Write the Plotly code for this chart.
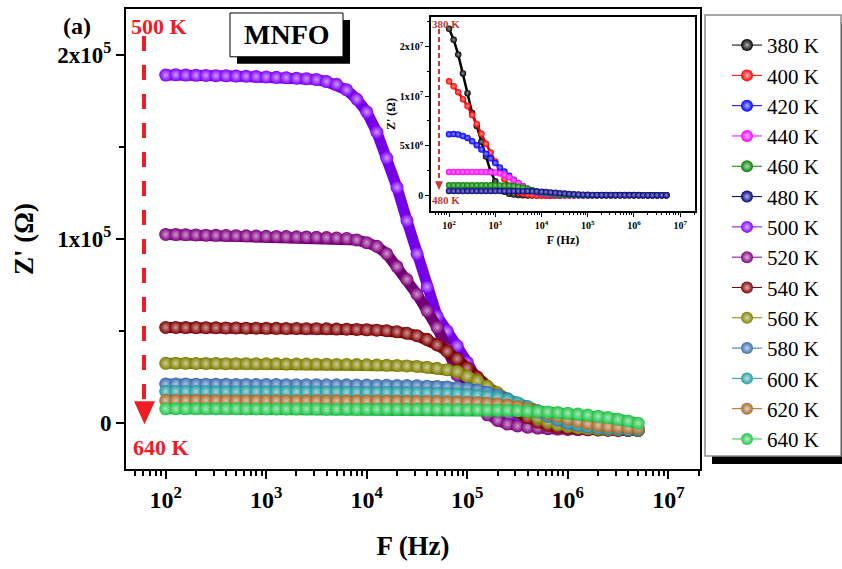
import plotly.graph_objects as go

# Measurement frequencies (Hz), 10 points per decade from 100 Hz to 5 MHz
F_HZ = [
    1.00e2, 1.26e2, 1.58e2, 2.00e2, 2.51e2, 3.16e2, 3.98e2, 5.01e2, 6.31e2, 7.94e2,
    1.00e3, 1.26e3, 1.58e3, 2.00e3, 2.51e3, 3.16e3, 3.98e3, 5.01e3, 6.31e3, 7.94e3,
    1.00e4, 1.26e4, 1.58e4, 2.00e4, 2.51e4, 3.16e4, 3.98e4, 5.01e4, 6.31e4, 7.94e4,
    1.00e5, 1.26e5, 1.58e5, 2.00e5, 2.51e5, 3.16e5, 3.98e5, 5.01e5, 6.31e5, 7.94e5,
    1.00e6, 1.26e6, 1.58e6, 2.00e6, 2.51e6, 3.16e6, 3.98e6, 5.01e6,
]

# Low-temperature Z' (units of 10^6 ohm), shown in the inset
Z_380K = [16.8, 15.7, 14.2, 12.3, 10.3, 8.3, 7.0, 5.4, 3.9, 2.4,
          1.4, 0.73, 0.35, 0.15, 0.06, 0.02, 0.0, -0.02, -0.03, -0.03,
          -0.03, -0.03, -0.02, -0.02, -0.02, -0.01, -0.01, -0.01, 0.0, 0.0,
          0.0, 0.0, 0.0, 0.0, 0.0, 0.0, 0.0, 0.0, 0.0, 0.0,
          0.0, 0.0, 0.0, 0.0, 0.0, 0.0, 0.0, 0.0]
Z_400K = [11.5, 11.0, 10.4, 9.7, 9.0, 8.1, 7.2, 6.2, 5.2, 4.3,
          3.4, 2.4, 1.6, 0.95, 0.55, 0.3, 0.15, 0.07, 0.02, -0.02,
          -0.04, -0.05, -0.05, -0.05, -0.04, -0.03, -0.02, -0.01, 0.0, 0.0,
          0.0, 0.0, 0.0, 0.0, 0.0, 0.0, 0.0, 0.0, 0.0, 0.0,
          0.0, 0.0, 0.0, 0.0, 0.0, 0.0, 0.0, 0.0]
Z_420K = [6.15, 6.18, 6.12, 5.98, 5.78, 5.45, 5.05, 4.62, 4.18, 3.72,
          3.25, 2.8, 2.38, 1.96, 1.56, 1.2, 0.9, 0.65, 0.45, 0.3,
          0.2, 0.13, 0.08, 0.05, 0.03, 0.02, 0.01, 0.0, 0.0, 0.0,
          0.0, 0.0, 0.0, 0.0, 0.0, 0.0, 0.0, 0.0, 0.0, 0.0,
          0.0, 0.0, 0.0, 0.0, 0.0, 0.0, 0.0, 0.0]
Z_440K = [2.35, 2.35, 2.35, 2.35, 2.35, 2.35, 2.35, 2.34, 2.34, 2.32,
          2.28, 2.2, 2.05, 1.82, 1.52, 1.2, 0.9, 0.65, 0.45, 0.3,
          0.19, 0.12, 0.07, 0.04, 0.02, 0.01, 0.0, 0.0, 0.0, 0.0,
          0.0, 0.0, 0.0, 0.0, 0.0, 0.0, 0.0, 0.0, 0.0, 0.0,
          0.0, 0.0, 0.0, 0.0, 0.0, 0.0, 0.0, 0.0]
Z_460K = [1.0, 1.0, 1.0, 1.0, 1.0, 1.0, 1.0, 1.0, 1.0, 1.0,
          1.0, 0.99, 0.98, 0.96, 0.92, 0.85, 0.75, 0.63, 0.5, 0.38,
          0.28, 0.2, 0.14, 0.1, 0.07, 0.05, 0.03, 0.02, 0.01, 0.0,
          0.0, 0.0, 0.0, 0.0, 0.0, 0.0, 0.0, 0.0, 0.0, 0.0,
          0.0, 0.0, 0.0, 0.0, 0.0, 0.0, 0.0, 0.0]
Z_480K = [0.42, 0.42, 0.42, 0.42, 0.42, 0.42, 0.42, 0.42, 0.42, 0.42,
          0.42, 0.42, 0.42, 0.42, 0.42, 0.41, 0.41, 0.40, 0.39, 0.37,
          0.35, 0.32, 0.28, 0.24, 0.2, 0.16, 0.12, 0.09, 0.07, 0.05,
          0.04, 0.03, 0.03, 0.02, 0.02, 0.02, 0.01, 0.01, 0.01, 0.01,
          0.01, 0.01, 0.0, 0.0, 0.0, 0.0, 0.0, 0.0]

# High-temperature Z' (units of 10^5 ohm), main panel
Z_500K = [1.890, 1.892, 1.890, 1.889, 1.888, 1.887, 1.886, 1.885, 1.884, 1.882,
          1.880, 1.878, 1.876, 1.873, 1.870, 1.866, 1.855, 1.840, 1.810, 1.760,
          1.690, 1.580, 1.440, 1.280, 1.100, 0.920, 0.740, 0.580, 0.500, 0.420,
          0.330, 0.230, 0.140, 0.070, 0.030, 0.005, -0.010, -0.017, -0.023, -0.027,
          -0.030, -0.032, -0.034, -0.035, -0.036, -0.037, -0.038, -0.039]
Z_520K = [1.025, 1.024, 1.023, 1.022, 1.021, 1.020, 1.019, 1.018, 1.017, 1.016,
          1.015, 1.014, 1.013, 1.012, 1.011, 1.010, 1.008, 1.006, 1.003, 0.995,
          0.980, 0.960, 0.920, 0.850, 0.780, 0.700, 0.610, 0.520, 0.400, 0.260,
          0.160, 0.090, 0.045, 0.015, -0.005, -0.015, -0.022, -0.027, -0.030, -0.032,
          -0.034, -0.035, -0.036, -0.037, -0.038, -0.039, -0.040, -0.040]
Z_540K = [0.520, 0.520, 0.519, 0.519, 0.518, 0.518, 0.517, 0.517, 0.516, 0.516,
          0.515, 0.515, 0.514, 0.514, 0.513, 0.513, 0.512, 0.511, 0.510, 0.509,
          0.507, 0.505, 0.502, 0.497, 0.488, 0.475, 0.455, 0.425, 0.390, 0.350,
          0.300, 0.250, 0.200, 0.150, 0.100, 0.060, 0.030, 0.005, -0.012, -0.022,
          -0.028, -0.032, -0.034, -0.036, -0.037, -0.038, -0.039, -0.040]
Z_560K = [0.325, 0.325, 0.325, 0.324, 0.324, 0.324, 0.323, 0.323, 0.323, 0.322,
          0.322, 0.322, 0.321, 0.321, 0.321, 0.320, 0.320, 0.319, 0.319, 0.318,
          0.317, 0.316, 0.315, 0.313, 0.311, 0.308, 0.304, 0.298, 0.290, 0.280,
          0.255, 0.230, 0.200, 0.165, 0.130, 0.095, 0.060, 0.030, 0.008, -0.008,
          -0.018, -0.025, -0.030, -0.033, -0.035, -0.036, -0.037, -0.038]
Z_580K = [0.212, 0.212, 0.212, 0.211, 0.211, 0.211, 0.211, 0.210, 0.210, 0.210,
          0.210, 0.210, 0.209, 0.209, 0.209, 0.209, 0.208, 0.208, 0.208, 0.207,
          0.207, 0.206, 0.206, 0.205, 0.204, 0.203, 0.201, 0.199, 0.196, 0.193,
          0.188, 0.180, 0.168, 0.152, 0.132, 0.110, 0.085, 0.060, 0.036, 0.016,
          0.000, -0.012, -0.020, -0.026, -0.030, -0.032, -0.034, -0.035]
Z_600K = [0.172, 0.172, 0.172, 0.172, 0.171, 0.171, 0.171, 0.171, 0.171, 0.170,
          0.170, 0.170, 0.170, 0.170, 0.169, 0.169, 0.169, 0.169, 0.168, 0.168,
          0.168, 0.167, 0.167, 0.166, 0.166, 0.165, 0.164, 0.163, 0.161, 0.159,
          0.156, 0.152, 0.146, 0.138, 0.126, 0.110, 0.090, 0.067, 0.045, 0.025,
          0.008, -0.006, -0.016, -0.022, -0.026, -0.029, -0.031, -0.033]
Z_620K = [0.123, 0.123, 0.123, 0.123, 0.123, 0.122, 0.122, 0.122, 0.122, 0.122,
          0.122, 0.122, 0.121, 0.121, 0.121, 0.121, 0.121, 0.121, 0.120, 0.120,
          0.120, 0.120, 0.120, 0.119, 0.119, 0.118, 0.118, 0.117, 0.116, 0.115,
          0.113, 0.111, 0.108, 0.104, 0.098, 0.090, 0.080, 0.067, 0.052, 0.036,
          0.021, 0.008, -0.003, -0.012, -0.018, -0.022, -0.025, -0.027]
Z_640K = [0.078, 0.078, 0.078, 0.078, 0.078, 0.078, 0.078, 0.078, 0.077, 0.077,
          0.077, 0.077, 0.077, 0.077, 0.077, 0.077, 0.076, 0.076, 0.076, 0.076,
          0.076, 0.076, 0.076, 0.075, 0.075, 0.075, 0.075, 0.074, 0.074, 0.074,
          0.073, 0.073, 0.072, 0.071, 0.070, 0.068, 0.066, 0.064, 0.061, 0.058,
          0.054, 0.049, 0.044, 0.037, 0.030, 0.021, 0.011, 0.000]

INSET_LABELS = ["380 K", "400 K", "420 K", "440 K", "460 K", "480 K"]
INSET_SERIES = [Z_380K, Z_400K, Z_420K, Z_440K, Z_460K, Z_480K]
INSET_COLORS = ["#000000", "#ff0000", "#0000ff", "#ff00ff", "#008000", "#000080"]

MAIN_LABELS = ["500 K", "520 K", "540 K", "560 K", "580 K", "600 K", "620 K", "640 K"]
MAIN_SERIES = [Z_500K, Z_520K, Z_540K, Z_560K, Z_580K, Z_600K, Z_620K, Z_640K]
MAIN_COLORS = ["#8000ff", "#800080", "#800000", "#808000",
               "#3a6db0", "#229aa2", "#a8692a", "#22c44a"]

X_TICKS = [1e2, 1e3, 1e4, 1e5, 1e6, 1e7]
X_TICKTEXT = ["10<sup>%d</sup>" % p for p in range(2, 8)]
Y_TICKS = [0, 1e5, 2e5]
Y_TICKTEXT = ["0", "1x10<sup>5</sup>", "2x10<sup>5</sup>"]
INSET_Y_TICKS = [0, 5e6, 1e7, 1.5e7]
INSET_Y_TICKTEXT = ["0", "5x10<sup>6</sup>", "1x10<sup>7</sup>", "2x10<sup>7</sup>"]

FONT = "Liberation Serif"

# plot-area pixel frame used to place decorations in paper coordinates
PL, PR, PT, PB = 126, 700, 7, 469


def xp(px):
    return (px - PL) / (PR - PL)


def yp(py):
    return (PB - py) / (PB - PT)


def tint(hex_color, f):
    h = hex_color.lstrip("#")
    rgb = [int(h[i:i + 2], 16) for i in (0, 2, 4)]
    rgb = [round(c + (255 - c) * f) for c in rgb]
    return "#%02x%02x%02x" % tuple(rgb)


def shade(hex_color, f):
    h = hex_color.lstrip("#")
    rgb = [round(int(h[i:i + 2], 16) * (1 - f)) for i in (0, 2, 4)]
    return "#%02x%02x%02x" % tuple(rgb)


fig = go.Figure()

# legend entries (one per temperature)
for label, color in zip(INSET_LABELS + MAIN_LABELS, INSET_COLORS + MAIN_COLORS):
    fig.add_trace(go.Scatter(
        x=[None], y=[None], name=label, mode="lines+markers",
        line=dict(color=color, width=1),
        marker=dict(size=12, color=color, line=dict(width=0),
                    gradient=dict(type="radial", color=tint(color, 0.7))),
        showlegend=True, hoverinfo="skip"))

# inset curves: shaded beads joined by a thin line
for label, vals, color in zip(INSET_LABELS, INSET_SERIES, INSET_COLORS):
    fig.add_trace(go.Scatter(
        x=F_HZ, y=[v * 1e6 for v in vals], name=label, mode="lines+markers",
        xaxis="x2", yaxis="y2", showlegend=False,
        line=dict(color=shade(color, 0.1), width=2.5),
        marker=dict(size=6.5, color=color, line=dict(width=0),
                    gradient=dict(type="radial", color=tint(color, 0.55)))))

# main curves: a thick line forms the tube, shaded beads sit on top
for label, vals, color in zip(MAIN_LABELS, MAIN_SERIES, MAIN_COLORS):
    fig.add_trace(go.Scatter(
        x=F_HZ, y=[v * 1e5 for v in vals], name=label, mode="lines+markers",
        showlegend=False,
        line=dict(color=shade(color, 0.1), width=11),
        marker=dict(size=13, color=color, line=dict(width=0),
                    gradient=dict(type="radial", color=tint(color, 0.6)))))

axis_common = dict(showline=True, linecolor="black", mirror=True, showgrid=False,
                   zeroline=False, ticks="outside", tickcolor="black")

fig.update_layout(
    width=842, height=569,
    margin=dict(l=PL, r=842 - PR, t=PT, b=569 - PB),
    paper_bgcolor="white", plot_bgcolor="white",
    font=dict(family=FONT, color="black"),
    xaxis=dict(**axis_common, type="log", range=[1.605, 7.315], domain=[0, 1],
               linewidth=2, ticklen=8, tickwidth=2,
               tickmode="array", tickvals=X_TICKS, ticktext=X_TICKTEXT,
               tickfont=dict(size=24, family=FONT, weight="bold"),
               minor=dict(ticks="outside", dtick="D1", ticklen=5, tickwidth=1.5,
                          tickcolor="black"),
               title=dict(text="F (Hz)", standoff=24,
                          font=dict(size=27, family=FONT, weight="bold"))),
    yaxis=dict(**axis_common, range=[-0.249e5, 2.249e5], domain=[0, 1],
               linewidth=2, ticklen=8, tickwidth=2,
               tickmode="array", tickvals=Y_TICKS, ticktext=Y_TICKTEXT,
               tickfont=dict(size=23, family=FONT, weight="bold"),
               minor=dict(ticks="outside", dtick=5e4, ticklen=5, tickwidth=1.5,
                          tickcolor="black"),
               title=dict(text="Z' (Ω)", standoff=16,
                          font=dict(size=27, family=FONT, weight="bold"))),
    xaxis2=dict(**axis_common, type="log", range=[1.61, 7.32],
                domain=[xp(431), xp(695)], anchor="y2",
                linewidth=1.5, ticklen=4, tickwidth=1,
                tickmode="array", tickvals=X_TICKS, ticktext=X_TICKTEXT,
                tickfont=dict(size=10, family=FONT, weight="bold"),
                minor=dict(ticks="outside", dtick="D1", ticklen=2, tickwidth=1,
                           tickcolor="black"),
                title=dict(text="F (Hz)", standoff=6,
                           font=dict(size=12, family=FONT, weight="bold"))),
    yaxis2=dict(**axis_common, range=[-1.61e6, 1.80e7],
                domain=[yp(210), yp(15)], anchor="x2",
                linewidth=1.5, ticklen=4, tickwidth=1,
                tickmode="array", tickvals=INSET_Y_TICKS, ticktext=INSET_Y_TICKTEXT,
                tickfont=dict(size=10, family=FONT, weight="bold"),
                minor=dict(ticks="outside", dtick=2.5e6, ticklen=2, tickwidth=1,
                           tickcolor="black"),
                title=dict(text="Z' (Ω)", standoff=2,
                           font=dict(size=12, family=FONT, weight="bold"))),
    legend=dict(x=xp(727), y=yp(23), xanchor="left", yanchor="top",
                bgcolor="rgba(0,0,0,0)", borderwidth=0,
                font=dict(size=21, family=FONT, color="black"),
                itemclick=False, itemdoubleclick=False),
    showlegend=True,
)

shapes = []
# legend frame with drop shadow
shapes.append(dict(type="rect", xref="paper", yref="paper", layer="above",
                   x0=xp(712), x1=xp(850), y0=yp(464), y1=yp(20),
                   fillcolor="black", line=dict(width=0)))
shapes.append(dict(type="rect", xref="paper", yref="paper", layer="above",
                   x0=xp(705), x1=xp(841), y0=yp(456), y1=yp(13),
                   fillcolor="white", line=dict(color="#8c8c8c", width=1.5)))
# sample-name box with drop shadow
shapes.append(dict(type="rect", xref="paper", yref="paper", layer="above",
                   x0=xp(237), x1=xp(350), y0=yp(62), y1=yp(18),
                   fillcolor="black", line=dict(width=0)))
shapes.append(dict(type="rect", xref="paper", yref="paper", layer="above",
                   x0=xp(230), x1=xp(343), y0=yp(55), y1=yp(11),
                   fillcolor="white", line=dict(color="black", width=1)))
# temperature trend arrow, main panel
shapes.append(dict(type="line", xref="paper", yref="paper", layer="above",
                   x0=xp(144), x1=xp(144), y0=yp(34), y1=yp(400),
                   line=dict(color="#ee1c25", width=4, dash="15px,14px")))
shapes.append(dict(type="path", xref="paper", yref="paper", layer="above",
                   path="M %f %f L %f %f L %f %f Z" % (xp(134), yp(401), xp(155), yp(401),
                                                       xp(144.5), yp(424)),
                   fillcolor="#ee1c25", line=dict(width=0)))
# temperature trend arrow, inset
shapes.append(dict(type="line", xref="paper", yref="paper", layer="above",
                   x0=xp(439), x1=xp(439), y0=yp(27), y1=yp(180),
                   line=dict(color="#c43c3c", width=2, dash="5px,3px")))
shapes.append(dict(type="path", xref="paper", yref="paper", layer="above",
                   path="M %f %f L %f %f L %f %f Z" % (xp(435), yp(180), xp(443), yp(180),
                                                       xp(439), yp(189)),
                   fillcolor="#c43c3c", line=dict(width=0)))
fig.update_layout(shapes=shapes)


def label(text, px, py, size, color="black", bold=True):
    return dict(text=text, xref="paper", yref="paper", x=xp(px), y=yp(py),
                xanchor="center", yanchor="middle", showarrow=False,
                font=dict(size=size, family=FONT, color=color,
                          weight="bold" if bold else "normal"))


fig.update_layout(annotations=[
    label("(a)", 77, 24, 24),
    label("MNFO", 287, 33, 28),
    label("500 K", 159, 25, 22, "#ee1c25"),
    label("640 K", 161, 447, 22, "#ee1c25"),
    label("380 K", 446, 22, 11, "#b83a3a"),
    label("480 K", 446, 199, 11, "#b83a3a"),
])

fig.write_html("out.html")
